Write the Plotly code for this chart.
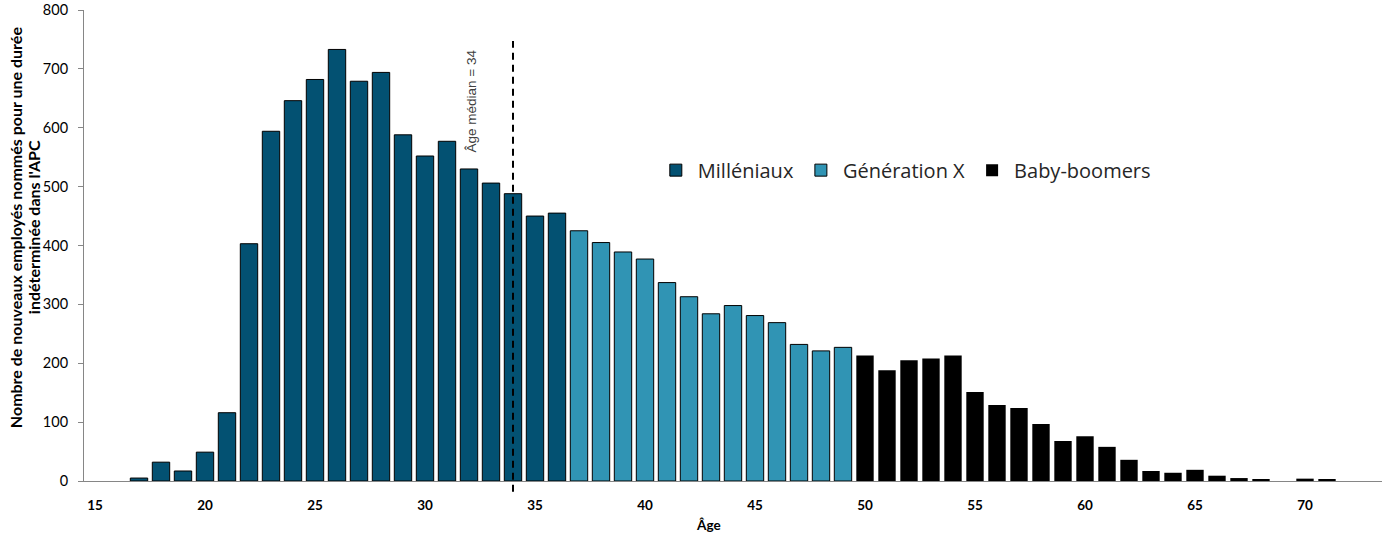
import plotly.graph_objects as go

ages_mill = list(range(17, 37))
vals_mill = [5, 32, 17, 49, 116, 403, 594, 646, 682, 733, 679, 694,
             588, 552, 577, 530, 506, 488, 450, 455]
ages_genx = list(range(37, 50))
vals_genx = [425, 405, 389, 377, 337, 313, 284, 298, 281, 269, 232, 221, 227]
ages_boom = list(range(50, 72))
vals_boom = [213, 188, 205, 208, 213, 151, 129, 124, 97, 68, 76, 58, 36,
             17, 14, 19, 9, 5, 2, 0, 4, 2]

median_age = 34
xticks = [15, 20, 25, 30, 35, 40, 45, 50, 55, 60, 65, 70]
yticks = [0, 100, 200, 300, 400, 500, 600, 700, 800]
ytitle_lines = ["Nombre de nouveaux employés nommés pour une durée",
                "indéterminée dans l'APC"]

c_mill = "#035172"
c_genx = "#3094b4"
c_boom = "#000000"

fig = go.Figure()
fig.add_trace(go.Bar(x=ages_mill, y=vals_mill, name="Milléniaux", width=0.79,
                     marker=dict(color=c_mill, line=dict(color="#000000", width=1))))
fig.add_trace(go.Bar(x=ages_genx, y=vals_genx, name="Génération X", width=0.79,
                     marker=dict(color=c_genx, line=dict(color="#000000", width=1))))
fig.add_trace(go.Bar(x=ages_boom, y=vals_boom, name="Baby-boomers", width=0.79,
                     marker=dict(color=c_boom, line=dict(color="#000000", width=0))))

fig.add_shape(type="line", xref="x", yref="paper", x0=median_age, x1=median_age,
              y0=-0.023, y1=0.934, line=dict(color="#000000", width=2, dash="7px,5px"))

fig.add_annotation(x=32.1, y=645, xref="x", yref="y", text="Âge médian = 34",
                   textangle=-90, showarrow=False,
                   font=dict(family="Liberation Sans, Arial", size=13.5, color="#404040"))

# y-axis title (two lines, tight spacing)
for line, xs in zip(ytitle_lines, [-69, -51]):
    fig.add_annotation(xref="paper", yref="paper", x=0, y=0.539, xanchor="center",
                       yanchor="middle", xshift=xs, textangle=-90, showarrow=False,
                       text=f"<b>{line}</b>",
                       font=dict(family="Lato", size=16, color="#000000"))
# x-axis title
fig.add_annotation(xref="paper", yref="paper", x=0.481, y=0, xanchor="center", yanchor="middle",
                   yshift=-44, showarrow=False, text="<b>Âge</b>",
                   font=dict(family="Lato", size=13.5, color="#000000"))

fig.update_layout(
    width=1382, height=536,
    margin=dict(l=84, r=0, t=10, b=55, autoexpand=False),
    plot_bgcolor="white", paper_bgcolor="white",
    barmode="overlay",
    showlegend=True,
    legend=dict(orientation="h", x=0.439, y=0.66, xanchor="left", yanchor="middle",
                font=dict(family="Open Sans", size=20, color="#262626"),
                itemwidth=34, tracegroupgap=0, bgcolor="rgba(0,0,0,0)"),
    font=dict(family="Lato", color="#000000"),
)
fig.update_xaxes(range=[14.5, 73.5], tickvals=xticks, ticktext=[f"<b>{t}</b>" for t in xticks],
                 showline=True, linecolor="#868686", linewidth=1, showgrid=False,
                 ticks="", zeroline=False, automargin=False, ticklabelstandoff=12,
                 ticklabeloverflow="allow",
                 tickfont=dict(family="Lato", size=13.5, color="#000000"))
fig.update_yaxes(range=[0, 800], tickvals=yticks, showline=True, linecolor="#868686",
                 linewidth=1, showgrid=False, ticks="outside", ticklen=5, tickcolor="#868686",
                 zeroline=False, automargin=False, ticklabelstandoff=7,
                 ticklabeloverflow="allow",
                 tickfont=dict(family="Lato", size=14.5, color="#000000"))

fig.write_html("out.html", config={"displayModeBar": False},
               post_script="document.body.style.margin='0';document.body.style.overflow='hidden';")
